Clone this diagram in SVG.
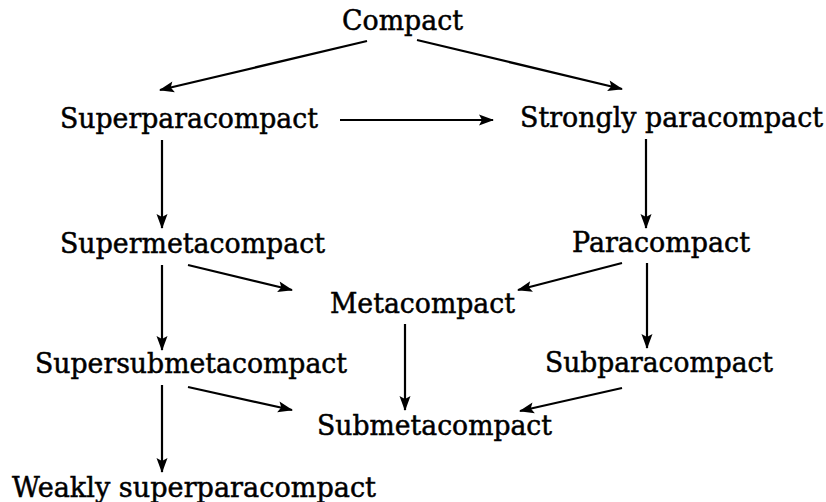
<svg xmlns="http://www.w3.org/2000/svg" width="826" height="502" viewBox="0 0 826 502">
<style>
  .lbl { font-family: "DejaVu Serif", "Liberation Serif", serif; font-size: 27px; fill: #000; stroke: #000; stroke-width: 0.5px; }
  .conn line { stroke: #000; stroke-width: 2.2; fill: none; marker-end: url(#arr); }
</style>
<defs>
  <marker id="arr" viewBox="-15 -6 16 12" refX="0" refY="0" markerWidth="16" markerHeight="12" markerUnits="userSpaceOnUse" orient="auto">
    <path d="M1,0 L-14,-5.5 L-11,0 L-14,5.5 Z" fill="#000"/>
  </marker>
</defs>
<rect width="826" height="502" fill="#fff"/>
<g id="n-compact"><text class="lbl" x="342" y="30" textLength="121" lengthAdjust="spacingAndGlyphs">Compact</text></g>
<g id="n-superparacompact"><text class="lbl" x="60" y="128" textLength="258" lengthAdjust="spacingAndGlyphs">Superparacompact</text></g>
<g id="n-strongly"><text class="lbl" x="520" y="127" textLength="303" lengthAdjust="spacingAndGlyphs">Strongly paracompact</text></g>
<g id="n-supermetacompact"><text class="lbl" x="60" y="253" textLength="265" lengthAdjust="spacingAndGlyphs">Supermetacompact</text></g>
<g id="n-paracompact"><text class="lbl" x="572" y="252" textLength="178" lengthAdjust="spacingAndGlyphs">Paracompact</text></g>
<g id="n-metacompact"><text class="lbl" x="330" y="313" textLength="185" lengthAdjust="spacingAndGlyphs">Metacompact</text></g>
<g id="n-supersubmetacompact"><text class="lbl" x="35" y="373" textLength="312" lengthAdjust="spacingAndGlyphs">Supersubmetacompact</text></g>
<g id="n-subparacompact"><text class="lbl" x="545" y="372" textLength="228" lengthAdjust="spacingAndGlyphs">Subparacompact</text></g>
<g id="n-submetacompact"><text class="lbl" x="317" y="435" textLength="235" lengthAdjust="spacingAndGlyphs">Submetacompact</text></g>
<g id="n-weakly"><text class="lbl" x="12" y="497" textLength="364" lengthAdjust="spacingAndGlyphs">Weakly superparacompact</text></g>
<g id="connectors" class="conn">
  <line x1="367" y1="41" x2="160" y2="90"/>
  <line x1="417" y1="40" x2="622" y2="89"/>
  <line x1="340" y1="120" x2="493" y2="120"/>
  <line x1="162" y1="140" x2="162" y2="228"/>
  <line x1="646" y1="139" x2="646" y2="228"/>
  <line x1="162" y1="265" x2="162" y2="350"/>
  <line x1="188" y1="265" x2="292" y2="290"/>
  <line x1="622" y1="263" x2="518" y2="290"/>
  <line x1="647" y1="263" x2="647" y2="348"/>
  <line x1="405" y1="324" x2="405" y2="410"/>
  <line x1="188" y1="387" x2="292" y2="410"/>
  <line x1="622" y1="388" x2="520" y2="411"/>
  <line x1="162" y1="385" x2="162" y2="472"/>
</g>
</svg>
